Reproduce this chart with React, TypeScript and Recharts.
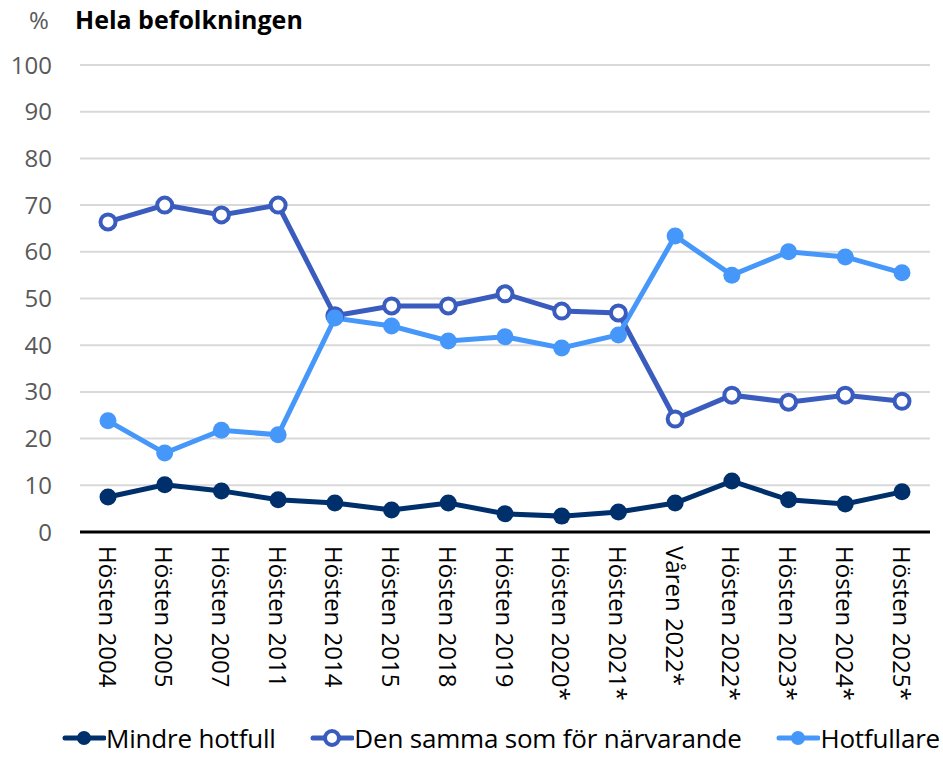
import { LineChart, Line, XAxis, YAxis, CartesianGrid, Legend } from "recharts"

const periods = [
  "Hösten 2004", "Hösten 2005", "Hösten 2007", "Hösten 2011", "Hösten 2014",
  "Hösten 2015", "Hösten 2018", "Hösten 2019", "Hösten 2020*", "Hösten 2021*",
  "Våren 2022*", "Hösten 2022*", "Hösten 2023*", "Hösten 2024*", "Hösten 2025*",
]
const mindreHotfull = [7.5, 10.1, 8.8, 6.9, 6.2, 4.7, 6.2, 3.9, 3.4, 4.3, 6.2, 10.9, 6.9, 6.0, 8.6]
const denSamma = [66.4, 70.0, 67.9, 70.0, 46.3, 48.4, 48.4, 51.0, 47.3, 46.9, 24.2, 29.3, 27.8, 29.3, 28.0]
const hotfullare = [23.8, 16.9, 21.8, 20.8, 45.8, 44.1, 40.9, 41.8, 39.4, 42.2, 63.4, 55.0, 60.0, 58.9, 55.5]
const yTicks = [0, 10, 20, 30, 40, 50, 60, 70, 80, 90, 100]

const series = [
  { key: "mindre", name: "Mindre hotfull", color: "#00306B", hollow: false },
  { key: "samma", name: "Den samma som för närvarande", color: "#3A5CBE", hollow: true },
  { key: "hot", name: "Hotfullare", color: "#4597FA", hollow: false },
]

const data = periods.map((p, i) => ({
  name: p,
  mindre: mindreHotfull[i],
  samma: denSamma[i],
  hot: hotfullare[i],
}))

const FONT = "'Open Sans', sans-serif"

const XTick = (props: any) => {
  const { x, y, payload } = props
  return (
    <text
      transform={`translate(${x},${y}) rotate(90)`}
      textAnchor="start"
      dominantBaseline="central"
      fontFamily={FONT}
      fontSize={24}
      fill="#000"
    >
      {payload.value}
    </text>
  )
}

const LegendContent = () => (
  <div style={{ display: "flex", justifyContent: "space-between", fontFamily: FONT, fontSize: 26, color: "#000", padding: "0 3px 0 62px", letterSpacing: -0.2 }}>
    {series.map(s => (
      <div key={s.key} style={{ display: "flex", alignItems: "center" }}>
        <svg width={44} height={20}>
          <line x1={3} y1={10} x2={42} y2={10} stroke={s.color} strokeWidth={5} strokeLinecap="round" />
          <circle cx={22} cy={10} r={7} fill={s.hollow ? "#fff" : s.color} stroke={s.color} strokeWidth={s.hollow ? 4 : 0} />
        </svg>
        <span>{s.name}</span>
      </div>
    ))}
  </div>
)

export default function App() {
  return (
    <div style={{ position: "absolute", left: 0, top: 0, width: 943, height: 758, background: "#fff" }}>
      <div style={{ position: "absolute", left: 29, top: 3, fontFamily: FONT, fontSize: 24, color: "#595959" }}>%</div>
      <div style={{ position: "absolute", left: 75, top: 2, fontFamily: FONT, fontWeight: 700, fontSize: 25, color: "#000" }}>
        Hela befolkningen
      </div>
      <LineChart width={943} height={758} data={data} margin={{ top: 65, right: 13, bottom: 0, left: 0 }}>
        <CartesianGrid vertical={false} stroke="#d9d9d9" strokeWidth={2} />
        <XAxis
          dataKey="name"
          interval={0}
          tick={<XTick />}
          tickLine={false}
          axisLine={{ stroke: "#000", strokeWidth: 3 }}
          height={190}
          tickMargin={8}
          padding={{ left: 28, right: 28 }}
        />
        <YAxis
          domain={[0, 100]}
          ticks={yTicks}
          width={80}
          axisLine={false}
          tickLine={false}
          tickSize={0}
          tickMargin={28}
          tick={{ fill: "#595959", fontSize: 24, fontFamily: FONT }}
        />
        <Legend verticalAlign="bottom" content={<LegendContent />} wrapperStyle={{ bottom: 2, left: 0, width: 943 }} />
        {series.map(s => (
          <Line
            key={s.key}
            dataKey={s.key}
            name={s.name}
            stroke={s.color}
            strokeWidth={5}
            isAnimationActive={false}
            dot={s.hollow
              ? { r: 7.5, fill: "#fff", stroke: s.color, strokeWidth: 4 }
              : { r: 8.5, fill: s.color, stroke: s.color, strokeWidth: 0 }}
            activeDot={false}
          />
        ))}
      </LineChart>
    </div>
  )
}
